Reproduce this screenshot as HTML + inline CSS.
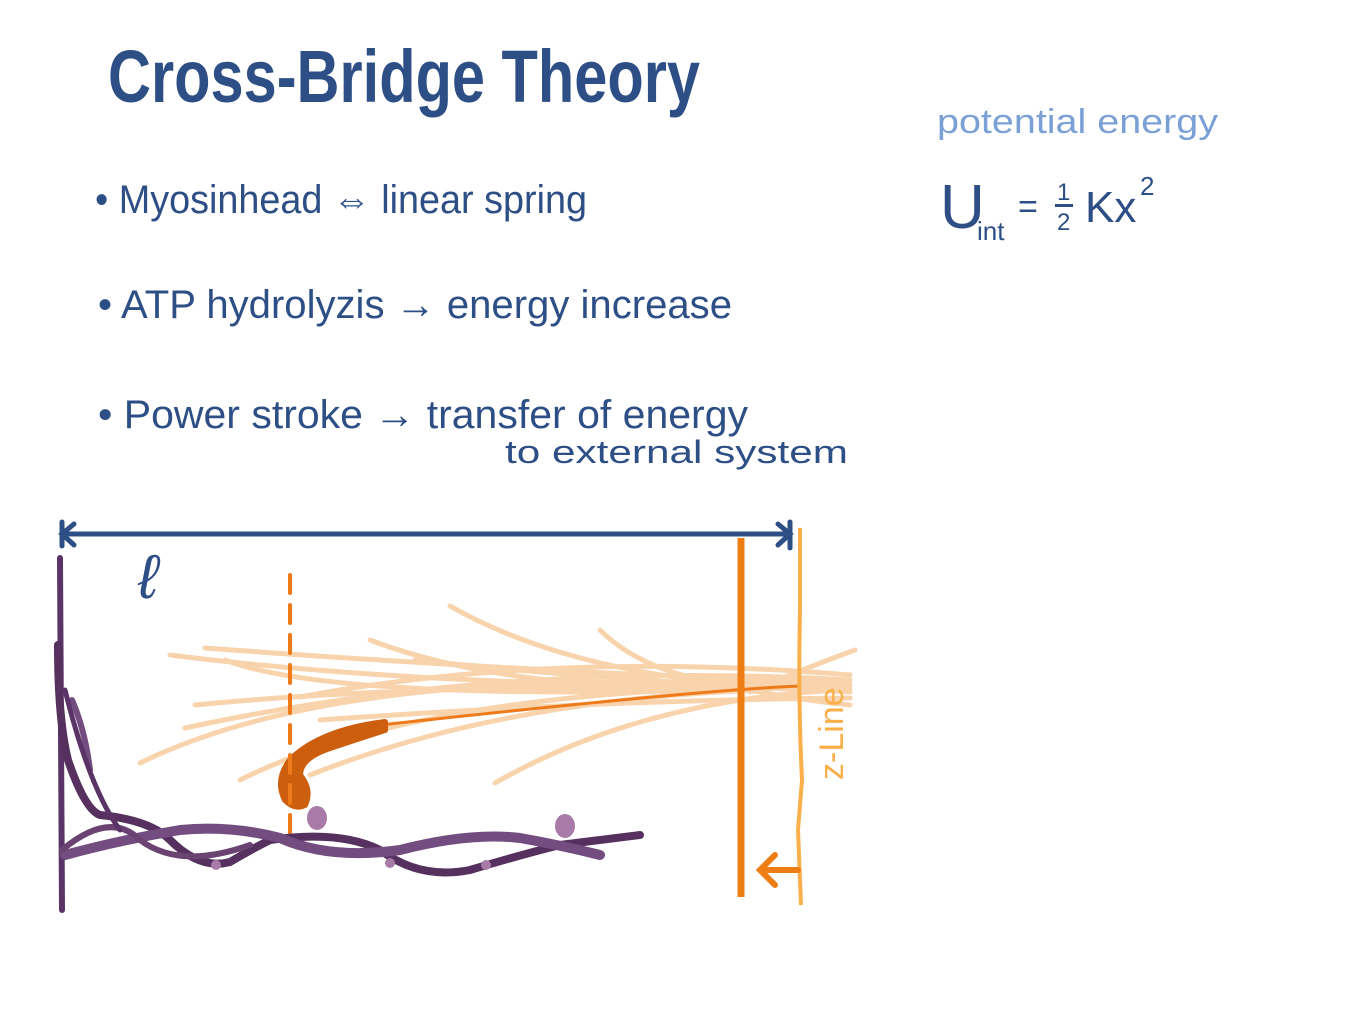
<!DOCTYPE html>
<html><head><meta charset="utf-8"><style>
html,body{margin:0;padding:0;background:#fff;}
svg{display:block}
text{font-family:"Liberation Sans",sans-serif;}
</style></head><body>
<svg width="1366" height="1024" viewBox="0 0 1366 1024" xmlns="http://www.w3.org/2000/svg">
<g fill="#2d4f86">
<text x="108" y="102" font-size="74" font-weight="bold" textLength="592" lengthAdjust="spacingAndGlyphs">Cross-Bridge Theory</text>
<text x="95" y="213" font-size="40" textLength="492" lengthAdjust="spacingAndGlyphs">• Myosinhead ⇔ linear spring</text>
<text x="98" y="318" font-size="40" textLength="634" lengthAdjust="spacingAndGlyphs">• ATP hydrolyzis  →  energy  increase</text>
<text x="98" y="428" font-size="40" textLength="650" lengthAdjust="spacingAndGlyphs">• Power stroke  →  transfer of energy</text>
<text x="505" y="463" font-size="32" textLength="343" lengthAdjust="spacingAndGlyphs">to  external     system</text>
<text x="940" y="228" font-size="62">U</text>
<text x="977" y="240" font-size="26">int</text>
<text x="1018" y="218" font-size="34">=</text>
<text x="1057" y="200" font-size="24">1</text>
<rect x="1055" y="204" width="18" height="3"/>
<text x="1057" y="230" font-size="24">2</text>
<text x="1085" y="222" font-size="44">Kx</text>
<text x="1140" y="195" font-size="26">2</text>
<text x="138" y="598" font-size="62" font-style="italic" font-family="Liberation Serif">ℓ</text>
</g>
<text x="937" y="133" font-size="34" fill="#7aa0d6" textLength="281" lengthAdjust="spacingAndGlyphs">potential  energy</text>

<!-- length arrow -->
<g stroke="#2d4f86" stroke-width="5" fill="none" stroke-linecap="round">
<line x1="62" y1="534" x2="790" y2="534"/>
<path d="M74 524 L62 534 L74 545"/>
<path d="M778 524 L790 534 L778 545"/>
<line x1="62" y1="522" x2="62" y2="546"/>
<line x1="790" y1="522" x2="790" y2="548"/>
</g>

<!-- actin light fibers -->
<g stroke="#f8cfa3" stroke-width="5" fill="none" stroke-linecap="round" opacity="0.9">
<path d="M170 655 Q450 690 850 686"/>
<path d="M205 648 Q500 670 850 684"/>
<path d="M195 705 Q450 680 850 690"/>
<path d="M140 763 Q350 660 820 688"/>
<path d="M185 728 Q500 660 850 680"/>
<path d="M225 660 Q330 700 720 690"/>
<path d="M300 697 Q550 650 850 675"/>
<path d="M450 606 Q580 680 800 688"/>
<path d="M370 640 Q500 690 740 690"/>
<path d="M600 630 Q650 680 760 688"/>
<path d="M415 660 Q600 680 850 692"/>
<path d="M240 780 Q420 690 800 686"/>
<path d="M310 775 Q500 700 760 690"/>
<path d="M495 783 Q640 700 840 690"/>
<path d="M320 720 Q600 700 850 698"/>
<path d="M750 692 Q800 670 855 650"/>
<path d="M750 690 Q800 700 850 705"/>
</g>

<!-- myosin head -->
<path d="M380 725 Q700 690 800 686" stroke="#ee7a1a" stroke-width="3" fill="none"/>
<path d="M385 722 Q320 730 290 760 Q275 780 285 800 Q295 810 305 805 Q312 790 300 775 Q300 758 330 748 Q360 738 385 730 Z" fill="#cc5e0e" stroke="#cc5e0e" stroke-width="6" stroke-linejoin="round"/>

<!-- dashed line -->
<line x1="290" y1="575" x2="290" y2="845" stroke="#ee7a1a" stroke-width="4" stroke-dasharray="18 12" stroke-linecap="round"/>

<!-- thick filament lines -->
<line x1="741" y1="538" x2="741" y2="897" stroke="#ee7d14" stroke-width="7"/>
<path d="M800 528 L800 610 Q798 700 802 780 L798 830 L801 905" stroke="#fbaf4a" stroke-width="4" fill="none"/>
<text transform="translate(843 780) rotate(-90)" font-size="34" fill="#fbaf4a">z-Line</text>
<g stroke="#ee7d14" stroke-width="6" fill="none" stroke-linecap="round">
<line x1="765" y1="870" x2="798" y2="870"/>
<path d="M775 855 L760 870 L775 885"/>
</g>

<!-- purple actin/titin -->
<g fill="none" stroke-linecap="round">
<line x1="60" y1="558" x2="62" y2="910" stroke="#5b3467" stroke-width="6"/>
<path d="M58 645 Q58 720 68 760 Q85 810 100 815 Q150 820 170 840 Q200 870 230 862 Q250 850 270 840 Q340 830 380 850 Q420 880 470 870 Q520 855 560 845 L640 835" stroke="#56305f" stroke-width="8"/>
<path d="M65 855 Q120 840 180 830 Q230 825 280 838 Q330 860 400 850 Q470 832 520 838 Q560 845 600 855" stroke="#744d80" stroke-width="10"/>
<path d="M62 850 Q110 810 140 840 Q180 870 250 845" stroke="#6a4373" stroke-width="6"/>
<path d="M72 700 Q85 730 90 770" stroke="#744d80" stroke-width="6"/>
<path d="M65 690 Q90 790 120 830" stroke="#5b3467" stroke-width="5"/>
</g>
<g fill="#a87aa8">
<ellipse cx="317" cy="818" rx="10" ry="12"/>
<ellipse cx="565" cy="826" rx="10" ry="12"/>
<circle cx="216" cy="865" r="5"/>
<circle cx="390" cy="863" r="5"/>
<circle cx="486" cy="865" r="5"/>
</g>
</svg>
</body></html>
